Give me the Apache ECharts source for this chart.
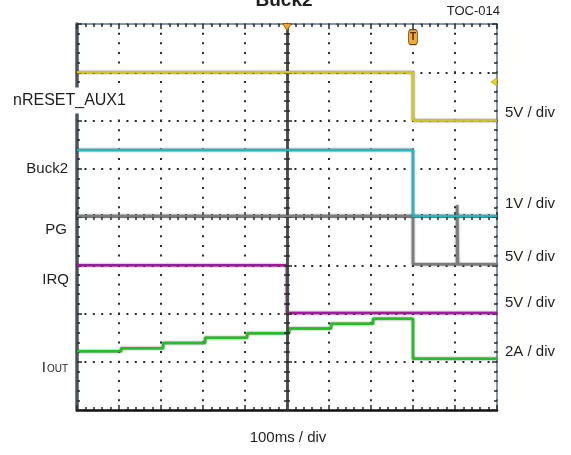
<!DOCTYPE html>
<html><head><meta charset="utf-8">
<script src="https://cdn.jsdelivr.net/npm/echarts@6/dist/echarts.min.js"></script>
<style>html,body{margin:0;padding:0;background:#fff}#c{width:571px;height:455px}</style>
</head><body><div id="c"></div>
<script>
// Time in divisions (100 ms / div); amplitude in screen divisions (0 = bottom, 8 = top)
const nresetT = [0, 8.0, 10];
const nresetV = [7.0, 6.0, 6.0];
const buck2T = [0, 8.0, 10];
const buck2V = [5.39, 4.02, 4.02];
const pgT = [0, 8.0, 9.05, 9.07, 10];
const pgV = [4.02, 3.02, 4.25, 3.02, 3.02];
const irqT = [0, 5.0, 10];
const irqV = [3.0, 2.01, 2.01];
const ioutT = [0, 1.05, 2.05, 3.05, 4.05, 5.05, 6.05, 7.05, 8.0, 10];
const ioutV = [1.22, 1.28, 1.39, 1.50, 1.59, 1.69, 1.79, 1.89, 1.06, 1.06];
// scope markers: trigger position, trigger level "T", channel-1 level
const markerT = [5.0, 8.0, 10];
const markerV = [8.0, 7.73, 6.8];
const leftLabels = ['nRESET_AUX1', 'Buck2', 'PG', 'IRQ'];
const ioutLabel = ['I', 'OUT'];
const scaleLabels = ['5V / div', '1V / div', '5V / div', '5V / div', '2A / div'];
const xLabel = '100ms / div';
const titleText = 'Buck2';
const tocLabel = 'TOC-014';

const FONT = '"Liberation Sans", Arial, sans-serif';
const dotColor = '#2a2a2a';
const frameBlue = '#5d7390';

function pairs(t, v) { return t.map((x, i) => [x, v[i]]); }

function tickAxis(extra) {
  return Object.assign({
    type: 'value', min: 0, max: 10, interval: 1,
    axisLabel: { show: false },
    splitLine: { show: false },
    axisTick: { show: true, inside: true, length: 5, lineStyle: { color: dotColor, width: 1.5 } },
    minorTick: { show: true, splitNumber: 5, length: 3, lineStyle: { color: dotColor, width: 1.5 } }
  }, extra);
}
const outTick = { show: true, inside: false, length: 3, lineStyle: { color: dotColor, width: 1.5 } };

function trace(t, v, color, z) {
  return {
    type: 'line', xAxisIndex: 0, yAxisIndex: 0, data: pairs(t, v), step: 'end',
    showSymbol: false, symbol: 'none', z: z, silent: true,
    lineStyle: { color: color, width: 2.5, shadowColor: 'rgba(0,0,0,0.6)', shadowBlur: 2 }
  };
}

function txt(x, y, text, font, align, extraStyle) {
  return { type: 'text', x: x, y: y, z: 100,
    style: Object.assign({ text: text, font: font, fill: '#1e1e1e', align: align, verticalAlign: 'middle',
      textAlign: align, textVerticalAlign: 'middle' }, extraStyle || {}) };
}

const yellowSeries = trace(nresetT, nresetV, '#d0c81e', 6);
yellowSeries.markPoint = {
  silent: true, animation: false,
  label: { show: false },
  data: [
    { coord: [markerT[0], markerV[0]], symbol: 'triangle', symbolRotate: 180, symbolSize: [9, 7], symbolOffset: [0, 3],
      itemStyle: { color: '#f0a030', borderColor: '#8a5a10', borderWidth: 0.8 } },
    { coord: [markerT[1], markerV[1]], symbol: 'roundRect', symbolSize: [9, 15],
      itemStyle: { color: '#f2a83a', borderColor: '#6a4a10', borderWidth: 1 },
      label: { show: true, formatter: 'T', color: '#4a3000', fontSize: 10, fontWeight: 'bold', position: 'inside' } },
    { coord: [markerT[2], markerV[2]], symbol: 'triangle', symbolRotate: 90, symbolSize: [8, 6], symbolOffset: [-3, 0],
      itemStyle: { color: '#e8d81a', borderColor: '#9a8a00', borderWidth: 0.6 } }
  ]
};

const option = {
  animation: false,
  backgroundColor: '#fff',
  grid: { left: 77, right: 74, top: 24, bottom: 45 },
  xAxis: [
    tickAxis({ position: 'bottom',
      axisLine: { show: true, onZero: false, lineStyle: { color: '#111', width: 2.5 } },
      splitLine: { show: true, lineStyle: { color: dotColor, width: 2, type: [2, 7.65], dashOffset: 1 } } }),
    tickAxis({ position: 'top',
      axisLine: { show: true, onZero: false, lineStyle: { color: frameBlue, width: 1.5 } } }),
    tickAxis({ position: 'bottom',
      axisLine: { show: true, onZero: true, onZeroAxisIndex: 2, lineStyle: { color: '#8a8a8a', width: 1.5 } } }),
    tickAxis({ position: 'bottom',
      axisLine: { show: true, onZero: true, onZeroAxisIndex: 2, lineStyle: { color: '#8a8a8a', width: 1.5 } },
      axisTick: outTick, minorTick: { show: true, splitNumber: 5, length: 3, lineStyle: { color: dotColor, width: 1.5 } } }),
    { type: 'value', min: -5, max: 5, show: false, axisLine: { onZero: false } }
  ],
  yAxis: [
    tickAxis({ min: 0, max: 8, position: 'left',
      axisLine: { show: true, onZero: false, lineStyle: { color: '#4b5560', width: 3.5 } },
      splitLine: { show: true, lineStyle: { color: dotColor, width: 2, type: [2, 6.4], dashOffset: 1 } } }),
    tickAxis({ min: 0, max: 8, position: 'right',
      axisLine: { show: true, onZero: false, lineStyle: { color: frameBlue, width: 1.5 } } }),
    { type: 'value', min: -4, max: 4, show: false, axisLine: { onZero: false } },
    tickAxis({ min: 0, max: 8, position: 'left', z: 4,
      axisLine: { show: true, onZero: true, onZeroAxisIndex: 4, lineStyle: { color: '#4a4a4a', width: 2.5 } } }),
    tickAxis({ min: 0, max: 8, position: 'left', z: 4,
      axisLine: { show: true, onZero: true, onZeroAxisIndex: 4, lineStyle: { color: '#4a4a4a', width: 2.5 } },
      axisTick: outTick, minorTick: { show: true, splitNumber: 5, length: 3, lineStyle: { color: dotColor, width: 1.5 } } })
  ],
  series: [
    trace(ioutT, ioutV, '#22c022', 2),
    trace(irqT, irqV, '#a41a9f', 3),
    trace(pgT, pgV, '#7c7c7c', 4),
    trace(buck2T, buck2V, '#2ab4bc', 5),
    yellowSeries
  ],
  graphic: [
    txt(284, 0.5, titleText, 'bold 19px ' + FONT, 'center'),
    txt(500, 11.3, tocLabel, '13px ' + FONT, 'right'),
    txt(12, 100.5, leftLabels[0], '16px ' + FONT, 'left', { backgroundColor: '#fff', padding: [5, 1, 5, 1] }),
    txt(68, 169, leftLabels[1], '15px ' + FONT, 'right'),
    txt(67, 229.7, leftLabels[2], '15px ' + FONT, 'right'),
    txt(69, 280, leftLabels[3], '15px ' + FONT, 'right'),
    txt(46, 367.5, ioutLabel[0], '15px ' + FONT, 'right'),
    txt(47, 369.5, ioutLabel[1], '10px ' + FONT, 'left'),
    txt(505, 112.5, scaleLabels[0], '15px ' + FONT, 'left'),
    txt(505, 204, scaleLabels[1], '15px ' + FONT, 'left'),
    txt(505, 257, scaleLabels[2], '15px ' + FONT, 'left'),
    txt(505, 303, scaleLabels[3], '15px ' + FONT, 'left'),
    txt(505, 351.5, scaleLabels[4], '15px ' + FONT, 'left'),
    txt(288, 438, xLabel, '15px ' + FONT, 'center')
  ]
};

const chart = echarts.init(document.getElementById('c'), null, { renderer: 'canvas' });
chart.setOption(option);
</script>
</body></html>
